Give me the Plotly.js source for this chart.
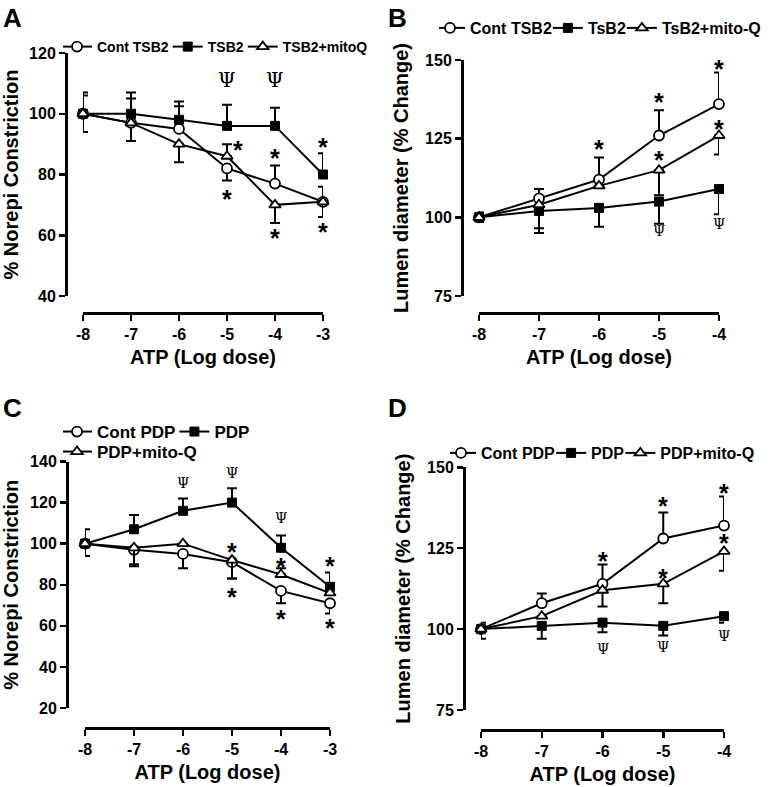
<!DOCTYPE html>
<html>
<head>
<meta charset="utf-8">
<script src="https://cdn.plot.ly/plotly-3.0.1.min.js"></script>
<style>html,body{margin:0;padding:0;background:#fff}#chart{width:771px;height:787px}</style>
</head>
<body>
<div id="chart"></div>
<script>
// ---------- data ----------
const doseAC = [-8, -7, -6, -5, -4, -3];
const doseBD = [-8, -7, -6, -5, -4];
const tickTextAC = ['-8', '-7', '-6', '-5', '-4', '-3'];
const tickTextBD = ['-8', '-7', '-6', '-5', '-4'];

// Panel A: % Norepi constriction (TSB2)
const namesA = ['Cont TSB2', 'TSB2', 'TSB2+mitoQ'];
const A_cont = [100, 97, 95, 82, 77, 71];
const A_cont_up = [7, 0, 7.5, 0, 6, 5];
const A_cont_dn = [0, 6, 0, 4, 0, 0];
const A_tsb2 = [100, 100, 98, 96, 96, 80];
const A_tsb2_up = [6, 7, 6, 7, 6, 7];
const A_tsb2_dn = [0, 0, 0, 0, 0, 0];
const A_mito = [100, 97, 90, 86, 70, 71];
const A_mito_up = [0, 8, 0, 4, 0, 0];
const A_mito_dn = [6, 0, 6, 0, 6, 5];

// Panel B: lumen diameter (TSB2)
const namesB = ['Cont TSB2', 'TsB2', 'TsB2+mito-Q'];
const B_cont = [100, 106, 112, 126, 136];
const B_cont_up = [1.5, 3, 7, 8, 10];
const B_cont_dn = [0, 0, 0, 0, 0];
const B_tsb2 = [100, 102, 103, 105, 109];
const B_tsb2_up = [0, 0, 0, 0, 0];
const B_tsb2_dn = [1.5, 7, 6, 7, 8];
const B_mito = [100, 104, 110, 115, 126];
const B_mito_up = [0, 0, 0, 0, 0];
const B_mito_dn = [1, 7.5, 0, 8, 6];

// Panel C: % Norepi constriction (PDP)
const namesC = ['Cont PDP', 'PDP', 'PDP+mito-Q'];
const C_cont = [100, 97, 95, 91, 77, 71];
const C_cont_up = [0, 0, 0, 0, 0, 0];
const C_cont_dn = [6, 7, 7, 8, 6, 5];
const C_pdp = [100, 107, 116, 120, 98, 79];
const C_pdp_up = [7, 7, 6, 7, 6, 7];
const C_pdp_dn = [0, 0, 0, 0, 0, 0];
const C_mito = [100, 98, 100, 92, 85, 76];
const C_mito_up = [0, 0, 0, 0, 3, 0];
const C_mito_dn = [0, 9, 0, 9, 0, 0];

// Panel D: lumen diameter (PDP)
const namesD = ['Cont PDP', 'PDP', 'PDP+mito-Q'];
const D_cont = [100, 108, 114, 128, 132];
const D_cont_up = [2, 3, 6, 8, 9];
const D_cont_dn = [0, 0, 0, 0, 0];
const D_pdp = [100, 101, 102, 101, 104];
const D_pdp_up = [0, 0, 0, 0, 0];
const D_pdp_dn = [3, 4, 3, 3, 2];
const D_mito = [100, 104, 112, 114, 124];
const D_mito_up = [0, 0, 0, 0, 0];
const D_mito_dn = [0, 0, 5, 6, 6];

// significance marks (dose, value)
const starA_x = [-4.77, -5, -4, -4, -3, -3];
const starA_y = [90, 74, 87.5, 61, 91, 63];
const psiA_x = [-5, -4];
const psiA_y = [111, 111];
const starB_x = [-6, -5, -5, -4, -4];
const starB_y = [123.5, 138.5, 120, 149, 130];
const psiB_x = [-5, -4];
const psiB_y = [95.5, 98];
const starC_x = [-5, -5, -4, -4, -3, -3];
const starC_y = [99, 77, 91.5, 66.3, 92, 62];
const psiC_x = [-6, -5, -4];
const psiC_y = [129.4, 134.6, 112.7];
const starD_x = [-6, -5, -5, -4, -4];
const starD_y = [123, 140, 117.7, 144, 128.5];
const psiD_x = [-6, -5, -4];
const psiD_y = [94, 94.5, 98];

// ---------- styling helpers ----------
const W = 771, H = 787;
const fx = p => p / W;
const fy = p => 1 - p / H;
const FONT = 'Liberation Sans, Arial, sans-serif';
const SERIF = 'DejaVu Serif, Liberation Serif, serif';

const markers = [
  {symbol: 'circle', size: 10, color: 'white', line: {color: 'black', width: 1.8}},
  {symbol: 'square', size: 9, color: 'black', line: {color: 'black', width: 1}},
  {symbol: 'triangle-up', size: 10, color: 'white', line: {color: 'black', width: 1.8}}
];

function mk(x, y, up, dn, name, idx, xa, ya, legend) {
  return {
    type: 'scatter', mode: 'lines+markers', x: x, y: y, name: name,
    xaxis: xa, yaxis: ya, legend: legend, cliponaxis: false,
    line: {color: 'black', width: 2},
    marker: markers[idx],
    error_y: {type: 'data', symmetric: false, array: up, arrayminus: dn,
              color: 'black', thickness: 2, width: 5}
  };
}

const traces = [
  mk(doseAC, A_cont, A_cont_up, A_cont_dn, namesA[0], 0, 'x', 'y', 'legend'),
  mk(doseAC, A_tsb2, A_tsb2_up, A_tsb2_dn, namesA[1], 1, 'x', 'y', 'legend'),
  mk(doseAC, A_mito, A_mito_up, A_mito_dn, namesA[2], 2, 'x', 'y', 'legend'),
  mk(doseBD, B_cont, B_cont_up, B_cont_dn, namesB[0], 0, 'x2', 'y2', 'legend2'),
  mk(doseBD, B_tsb2, B_tsb2_up, B_tsb2_dn, namesB[1], 1, 'x2', 'y2', 'legend2'),
  mk(doseBD, B_mito, B_mito_up, B_mito_dn, namesB[2], 2, 'x2', 'y2', 'legend2'),
  mk(doseAC, C_cont, C_cont_up, C_cont_dn, namesC[0], 0, 'x3', 'y3', 'legend3'),
  mk(doseAC, C_pdp, C_pdp_up, C_pdp_dn, namesC[1], 1, 'x3', 'y3', 'legend3'),
  mk(doseAC, C_mito, C_mito_up, C_mito_dn, namesC[2], 2, 'x3', 'y3', 'legend5'),
  mk(doseBD, D_cont, D_cont_up, D_cont_dn, namesD[0], 0, 'x4', 'y4', 'legend4'),
  mk(doseBD, D_pdp, D_pdp_up, D_pdp_dn, namesD[1], 1, 'x4', 'y4', 'legend4'),
  mk(doseBD, D_mito, D_mito_up, D_mito_dn, namesD[2], 2, 'x4', 'y4', 'legend4')
];

const tickfont = {family: FONT, size: 16, weight: 'bold', color: 'black'};
const titlefont = {family: FONT, size: 20, weight: 'bold', color: 'black'};
function axBase() {
  return {showgrid: false, zeroline: false, showline: true, linewidth: 2.5, linecolor: 'black',
          ticks: 'outside', ticklen: 6, tickwidth: 2.5, tickcolor: 'black',
          tickfont: tickfont, automargin: false, fixedrange: true, anchor: 'free'};
}
function xax(domPx, range, tv, tt, posPx) {
  return Object.assign(axBase(), {domain: [fx(domPx[0]), fx(domPx[1])], range: range,
    tickvals: tv, ticktext: tt, position: fy(posPx),
    title: {text: 'ATP (Log dose)', font: titlefont, standoff: 8}});
}
function yax(domPx, range, tv, posPx, title, standoff) {
  return Object.assign(axBase(), {domain: [fy(domPx[0]), fy(domPx[1])], range: range,
    tickvals: tv, position: fx(posPx),
    title: {text: title, font: titlefont, standoff: standoff}});
}

function legendAt(xPx, yPx, size, indent) {
  return {x: fx(xPx), y: fy(yPx), xanchor: 'left', yanchor: 'middle', orientation: 'h',
          bgcolor: 'rgba(0,0,0,0)', borderwidth: 0, indentation: indent,
          font: {family: FONT, size: size, weight: 'bold', color: 'black'}};
}

const annotations = [];
function addMarks(xs, ys, xref, yref, txt, font, yshift) {
  xs.forEach((x, i) => annotations.push({x: x, y: ys[i], xref: xref, yref: yref, text: txt,
    showarrow: false, font: font, xanchor: 'center', yanchor: 'middle', yshift: yshift}));
}
const starFont = {family: FONT, size: 25, weight: 'bold', color: 'black'};
const psiBig = {family: SERIF, size: 20, color: '#000000'};
const psiSmall = {family: SERIF, size: 14, color: '#000000'};
addMarks(starA_x, starA_y, 'x', 'y', '*', starFont, -6);
addMarks(psiA_x, psiA_y, 'x', 'y', 'Ψ', psiBig, 0);
addMarks(starB_x, starB_y, 'x2', 'y2', '*', starFont, -6);
addMarks(psiB_x, psiB_y, 'x2', 'y2', 'Ψ', psiSmall, 0);
addMarks(starC_x, starC_y, 'x3', 'y3', '*', starFont, -6);
addMarks(psiC_x, psiC_y, 'x3', 'y3', 'Ψ', psiSmall, 0);
addMarks(starD_x, starD_y, 'x4', 'y4', '*', starFont, -6);
addMarks(psiD_x, psiD_y, 'x4', 'y4', 'Ψ', psiSmall, 0);

const panelFont = {family: FONT, size: 26, weight: 'bold', color: 'black'};
[['A', 1, 1], ['B', 386, 1], ['C', 1, 391], ['D', 386, 391]].forEach(p => {
  annotations.push({text: p[0], x: fx(p[1]), y: fy(p[2]), xref: 'paper', yref: 'paper',
    xanchor: 'left', yanchor: 'top', showarrow: false, font: panelFont});
});

const layout = {
  width: W, height: H,
  margin: {l: 0, r: 0, t: 0, b: 0, autoexpand: false},
  paper_bgcolor: 'white', plot_bgcolor: 'rgba(0,0,0,0)',
  showlegend: true,
  xaxis: xax([83, 323], [-8, -3], doseAC, tickTextAC, 313),
  yaxis: yax([296, 53], [40, 120], [40, 60, 80, 100, 120], 66, '% Norepi Constriction', 10),
  xaxis2: xax([479, 719], [-8, -4], doseBD, tickTextBD, 313),
  yaxis2: yax([296, 60], [75, 150], [75, 100, 125, 150], 462, 'Lumen diameter (% Change)', 10),
  xaxis3: xax([85, 330], [-8, -3], doseAC, tickTextAC, 728),
  yaxis3: yax([708, 461.5], [20, 140], [20, 40, 60, 80, 100, 120, 140], 67, '% Norepi Constriction', 10),
  xaxis4: xax([481, 724], [-8, -4], doseBD, tickTextBD, 730),
  yaxis4: yax([710, 467.3], [75, 150], [75, 100, 125, 150], 464, 'Lumen diameter (% Change)', 10),
  legend: legendAt(63, 47, 14, -6),
  legend2: legendAt(439, 28, 16, -9),
  legend3: legendAt(63, 432, 17, -6),
  legend5: legendAt(63, 452, 17, -6),
  legend4: legendAt(450, 453, 16, -9),
  annotations: annotations
};

Plotly.newPlot('chart', traces, layout, {displayModeBar: false, staticPlot: true});
</script>
</body>
</html>
